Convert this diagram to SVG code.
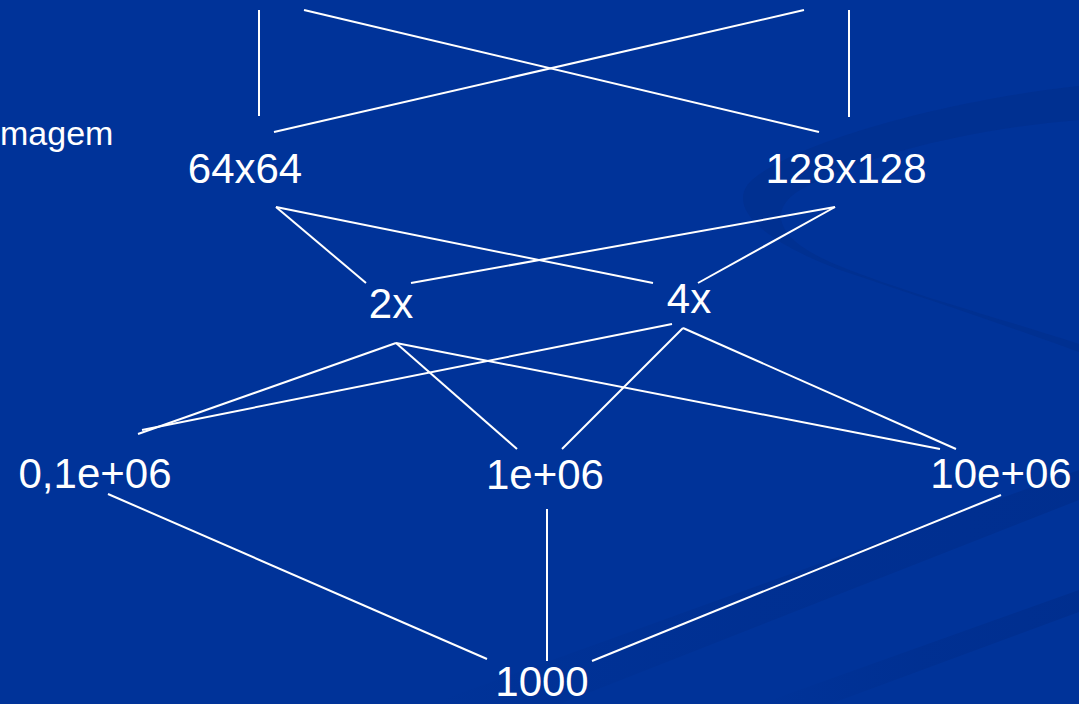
<svg xmlns="http://www.w3.org/2000/svg" width="1079" height="704" viewBox="0 0 1079 704">
<style>
.lbl{font-family:"Liberation Sans",Arial,sans-serif;font-size:42px;fill:#ffffff;text-anchor:middle}
.edge{stroke:#ffffff;stroke-width:2;fill:none;stroke-linecap:butt}
</style>
<defs>
<linearGradient id="band" x1="0" y1="0" x2="1" y2="0">
<stop offset="0" stop-color="#002a85" stop-opacity="0"/>
<stop offset="0.5" stop-color="#002a85" stop-opacity="0.35"/>
<stop offset="1" stop-color="#002a85" stop-opacity="0.5"/>
</linearGradient>
</defs>
<g id="background">
<rect x="0" y="0" width="1079" height="704" fill="#003399"/>
<path d="M1079,86 C950,100 800,140 752,180 C725,205 760,240 840,270 C930,300 1020,330 1079,352 L1079,344 C1000,318 900,292 830,262 C780,240 765,212 800,190 C870,152 980,128 1079,120 Z" fill="#002f8e" opacity="0.8"/>
<path d="M430,704 L1079,470 L1079,500 L560,704 Z" fill="url(#band)"/>
<path d="M760,704 L1079,590 L1079,612 L830,704 Z" fill="url(#band)"/>
</g>
<g id="connectors">
<line class="edge" x1="259" y1="10" x2="259" y2="116"/>
<line class="edge" x1="304" y1="10" x2="819" y2="132"/>
<line class="edge" x1="274" y1="132" x2="804" y2="10"/>
<line class="edge" x1="849" y1="10" x2="849" y2="117"/>
<line class="edge" x1="276" y1="207" x2="366" y2="283"/>
<line class="edge" x1="276" y1="207" x2="653" y2="283"/>
<line class="edge" x1="835" y1="207" x2="411" y2="283"/>
<line class="edge" x1="835" y1="207" x2="698" y2="283"/>
<line class="edge" x1="396" y1="343" x2="138" y2="434"/>
<line class="edge" x1="396" y1="343" x2="517" y2="449"/>
<line class="edge" x1="396" y1="343" x2="940" y2="449"/>
<line class="edge" x1="672" y1="324" x2="142" y2="430"/>
<line class="edge" x1="683" y1="328" x2="562" y2="449"/>
<line class="edge" x1="683" y1="328" x2="956" y2="449"/>
<line class="edge" x1="108" y1="494" x2="487" y2="659"/>
<line class="edge" x1="547" y1="509" x2="547" y2="661"/>
<line class="edge" x1="1001" y1="495" x2="592" y2="661"/>
</g>
<g id="node-imagem"><text class="lbl" x="0" y="145" style="text-anchor:start;font-size:34px">magem</text></g>
<g id="node-64x64"><text class="lbl" x="245" y="183">64x64</text></g>
<g id="node-128x128"><text class="lbl" x="846" y="183">128x128</text></g>
<g id="node-2x"><text class="lbl" x="391" y="318">2x</text></g>
<g id="node-4x"><text class="lbl" x="689" y="313">4x</text></g>
<g id="node-01e06"><text class="lbl" x="95" y="488">0,1e+06</text></g>
<g id="node-1e06"><text class="lbl" x="545" y="489">1e+06</text></g>
<g id="node-10e06"><text class="lbl" x="1001" y="488">10e+06</text></g>
<g id="node-1000"><text class="lbl" x="542" y="696">1000</text></g>
</svg>
